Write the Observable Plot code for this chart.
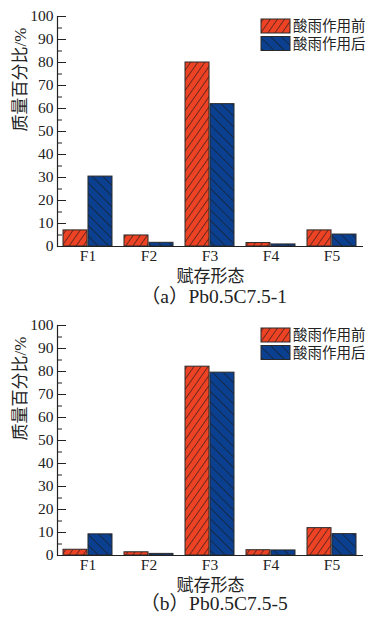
<!DOCTYPE html>
<html>
<head>
<meta charset="utf-8">
<script src="https://cdn.jsdelivr.net/npm/d3@7"></script>
<script src="https://cdn.jsdelivr.net/npm/@observablehq/plot@0.6"></script>
<style>
  html, body { margin: 0; padding: 0; background: #fff; }
  body { width: 368px; height: 617px; position: relative; overflow: hidden; }
  .panel { position: absolute; left: 0; width: 368px; }
  .cap { position: absolute; left: 0; width: 368px; text-align: center; font-family: "Liberation Serif", "Noto Sans CJK SC", serif; font-size: 19.5px; color: #222; padding-left: 60px; box-sizing: border-box; }
</style>
</head>
<body>
<div id="pa" class="panel" style="top:0"></div>
<div id="ca" class="cap" style="top:285px;height:24px;line-height:24px"></div>
<div id="pb" class="panel" style="top:309px"></div>
<div id="cb" class="cap" style="top:594px;height:23px;line-height:20px"></div>
<script>
// ---- data ----
const categories = ["F1", "F2", "F3", "F4", "F5"];
const seriesNames = ["酸雨作用前", "酸雨作用后"];
const aBefore = [7.0, 4.8, 80.0, 1.5, 7.0];
const aAfter  = [30.4, 1.6, 61.9, 0.9, 5.2];
const bBefore = [2.5, 1.4, 82.1, 2.3, 11.9];
const bAfter  = [9.2, 0.7, 79.5, 2.2, 9.3];
const yMajorTicks = [0, 10, 20, 30, 40, 50, 60, 70, 80, 90, 100];
const yMinorTicks = [5, 15, 25, 35, 45, 55, 65, 75, 85, 95];
const xTitle = "赋存形态";
const yTitle = "质量百分比/%";
const captions = ["（a）Pb0.5C7.5-1", "（b）Pb0.5C7.5-5"];

const RED = "#ee4224", BLUE = "#0b3f8f", EDGE = "#2a2a2a";
const FONT = '"Liberation Serif", "Noto Sans CJK SC", serif';

function chart(before, after, id) {
  const W = 368, H = 285, ml = 57, mr = 5, mt = 16, mb = 39;
  const pi = 0.19, po = 0.075;
  const step = (W - ml - mr) / (categories.length - pi + 2 * po);
  const half = step * (1 - pi) / 2;
  const rows0 = categories.map((c, i) => ({cat: c, series: seriesNames[0], v: before[i]}));
  const rows1 = categories.map((c, i) => ({cat: c, series: seriesNames[1], v: after[i]}));
  const frameW = W - ml - mr;
  const svg = Plot.plot({
    width: W, height: H,
    marginLeft: ml, marginRight: mr, marginTop: mt, marginBottom: mb,
    style: {fontFamily: FONT, fontSize: "15px", color: "#222", background: "white", overflow: "visible"},
    x: {domain: categories, paddingInner: pi, paddingOuter: po, label: null},
    y: {domain: [0, 100], label: null},
    marks: [
      Plot.barY(rows0, {x: "cat", y: "v", fill: `url(#hr${id})`, stroke: EDGE, strokeWidth: 1, insetLeft: 0, insetRight: half}),
      Plot.barY(rows1, {x: "cat", y: "v", fill: `url(#hb${id})`, stroke: EDGE, strokeWidth: 1, insetLeft: half, insetRight: 0}),
      Plot.tickY(yMajorTicks, {y: d => d, stroke: "#222", strokeWidth: 1, insetRight: frameW - 9}),
      Plot.tickY(yMinorTicks, {y: d => d, stroke: "#222", strokeWidth: 1, insetRight: frameW - 5}),
      Plot.axisY({ticks: yMajorTicks, tickSize: 0, tickPadding: 4, label: null, fontSize: 15.5, fill: "#222"}),
      Plot.axisX({tickSize: 0, tickPadding: 3, label: null, fontSize: 15.5, fill: "#222"}),
      Plot.ruleY([0], {stroke: "#222", strokeWidth: 1.2}),
      Plot.frame({anchor: "left", stroke: "#222", strokeWidth: 1.2}),
      Plot.text([xTitle], {frameAnchor: "bottom", dy: 35, fontSize: 17, fill: "#222", text: d => d}),
      Plot.text([yTitle], {frameAnchor: "left", dx: -37, rotate: -90, fontSize: 17, fill: "#222", text: d => d})
    ]
  });
  const s = d3.select(svg);
  const defs = s.insert("defs", ":first-child");
  const mk = (pid, color, angle, sp) => {
    const p = defs.append("pattern").attr("id", pid).attr("patternUnits", "userSpaceOnUse")
      .attr("width", sp).attr("height", sp).attr("patternTransform", `rotate(${angle})`);
    p.append("rect").attr("width", sp).attr("height", sp).attr("fill", color);
    p.append("line").attr("x1", 0).attr("y1", 0).attr("x2", 0).attr("y2", sp)
      .attr("stroke", "#1a1a1a").attr("stroke-width", 1.2);
  };
  mk(`hr${id}`, RED, 35, 5.8);
  mk(`hb${id}`, BLUE, -45, 7.5);
  // legend
  const lg = s.append("g").attr("font-family", FONT).attr("font-size", 14.5).attr("fill", "#222").attr("text-anchor", "start");
  const lx = W - mr - 102, ly = mt + 3;
  [[`hr${id}`, seriesNames[0]], [`hb${id}`, seriesNames[1]]].forEach(([pid, name], i) => {
    const y0 = ly + i * 17.5;
    lg.append("rect").attr("x", lx).attr("y", y0).attr("width", 29).attr("height", 14)
      .attr("fill", `url(#${pid})`).attr("stroke", EDGE).attr("stroke-width", 1);
    lg.append("text").attr("x", lx + 32).attr("y", y0 + 7).attr("dy", "0.36em").attr("text-anchor", "start").text(name);
  });
  return svg;
}

document.getElementById("pa").appendChild(chart(aBefore, aAfter, "a"));
document.getElementById("pb").appendChild(chart(bBefore, bAfter, "b"));
document.getElementById("ca").textContent = captions[0];
document.getElementById("cb").textContent = captions[1];
</script>
</body>
</html>
